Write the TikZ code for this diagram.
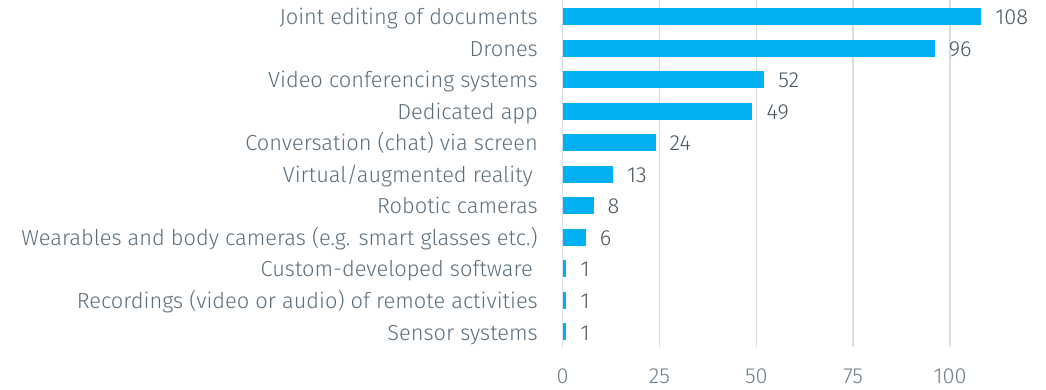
\documentclass[tikz,border=0pt]{standalone}
\usepackage{fontspec}
\setmainfont{Fira Sans}[UprightFont={* Light}]
\definecolor{barc}{HTML}{00B0F0}
\definecolor{gridc}{HTML}{D6DEE4}
\definecolor{labc}{HTML}{5A6E7C}
\definecolor{valc}{HTML}{48545E}
\definecolor{tickc}{HTML}{6A7E8B}
\begin{document}
\begin{tikzpicture}[x=1pt,y=-1pt,
  bar/.style={fill=barc,draw=none},
  gridline/.style={draw=gridc,line width=1.5pt},
  catlabel/.style={anchor=base east,inner sep=0pt,text=labc,font=\fontsize{21.8}{24}\selectfont},
  vallabel/.style={anchor=base west,inner sep=0pt,text=valc,font=\fontsize{21.8}{24}\selectfont},
  ticklabel/.style={anchor=base,inner sep=0pt,text=tickc,font=\fontsize{21.8}{24}\selectfont}]
\useasboundingbox (0,0) rectangle (1046,389);
\foreach \k/\t in {0/0,1/25,2/50,3/75,4/100}{
  \coordinate (gt\k) at ({562.5+96.9*\k},0);
  \coordinate (gb\k) at ({562.5+96.9*\k},347);
  \draw[gridline] (gt\k) -- (gb\k);
  \node[ticklabel] (tick\k) at ({562.5+96.9*\k},383) {\t};
}
\foreach \i/\v/\lab in {
  0/108/{Joint editing of documents},
  1/96/{Drones},
  2/52/{Video conferencing systems},
  3/49/{Dedicated app},
  4/24/{Conversation (chat) via screen},
  5/13/{Virtual/augmented reality\kern5pt},
  6/8/{Robotic cameras},
  7/6/{Wearables and body cameras (e.g. smart glasses etc.)},
  8/1/{Custom-developed software\kern5pt},
  9/1/{Recordings (video or audio) of remote activities},
  10/1/{Sensor systems}}{
  \pgfmathsetmacro{\yc}{16.5+31.52*\i}
  \pgfmathsetmacro{\xe}{562.5+3.876*\v}
  \fill[bar] (562.5,\yc-8.5) rectangle (\xe,\yc+8.5);
  \node[catlabel] (cat\i) at (538,\yc+8.3) {\lab};
  \node[vallabel] (val\i) at (\xe+14,\yc+8.3) {\v};
}
\end{tikzpicture}
\end{document}
